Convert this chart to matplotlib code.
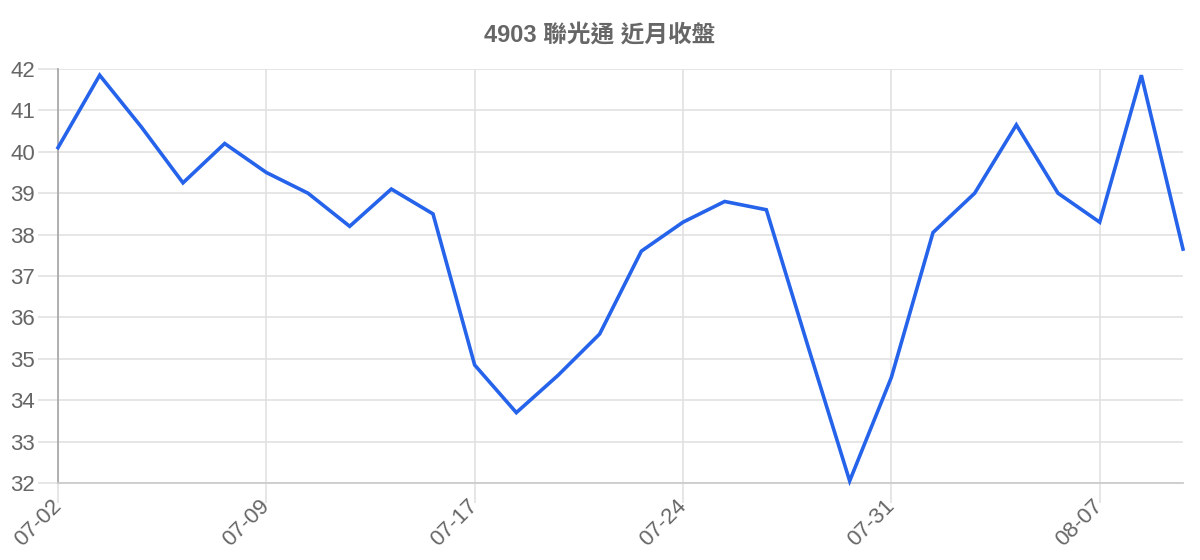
import matplotlib
matplotlib.use("Agg")
import matplotlib.pyplot as plt

dates = ["07-02", "07-03", "07-04", "07-07", "07-08", "07-09", "07-10", "07-11",
         "07-14", "07-15", "07-17", "07-18", "07-21", "07-22", "07-23", "07-24",
         "07-25", "07-28", "07-29", "07-30", "07-31", "08-01", "08-04", "08-05",
         "08-06", "08-07", "08-08", "08-11"]
closes = [40.1, 41.85, 40.6, 39.25, 40.2, 39.5, 39.0, 38.2,
          39.1, 38.5, 34.85, 33.7, 34.6, 35.6, 37.6, 38.3,
          38.8, 38.6, 35.3, 32.05, 34.55, 38.05, 39.0, 40.65,
          39.0, 38.3, 41.85, 37.65]
title = "4903 聯光通 近月收盤"
y_ticks = list(range(32, 43))

plt.rcParams['font.family'] = ['Liberation Sans', 'Noto Sans CJK TC', 'DejaVu Sans']

fig = plt.figure(figsize=(12, 5.6), dpi=100)
ax = fig.add_axes([58/1200, 1-483/560, (1183-58)/1200, (483-69)/560])

x = list(range(len(dates)))
ax.plot(x, closes, color="#2563eb", linewidth=2.6, solid_joinstyle="miter", zorder=3, clip_on=False)

ax.set_xlim(0, len(dates)-1)
ax.set_ylim(32, 42)
ax.set_yticks(y_ticks)
ax.set_yticklabels([str(v) for v in y_ticks])
tick_idx = x[::5]
ax.set_xticks(tick_idx)
ax.set_xticklabels([dates[i] for i in tick_idx], rotation=45, ha="right", va="center",
                   rotation_mode="anchor")

ax.grid(True, color="#e1e1e1", linewidth=1.2, zorder=0)
ax.tick_params(axis="both", colors="#e1e1e1", labelcolor="#666666", length=14.5, width=1.2)
ax.tick_params(axis="y", pad=2, labelsize=16)
ax.tick_params(axis="x", pad=0, labelsize=16)
for s in ["top", "right"]:
    ax.spines[s].set_visible(False)
ax.spines["left"].set_color("#aaaaaa")
ax.spines["left"].set_linewidth(1.3)
ax.spines["bottom"].set_color("#cccccc")
ax.spines["bottom"].set_linewidth(1.3)

fig.text(600/1200, 1-36/560, title, ha="center", va="center", fontsize=17,
         fontweight="bold", color="#666666")

fig.savefig("out.png", dpi=100, facecolor="white")
